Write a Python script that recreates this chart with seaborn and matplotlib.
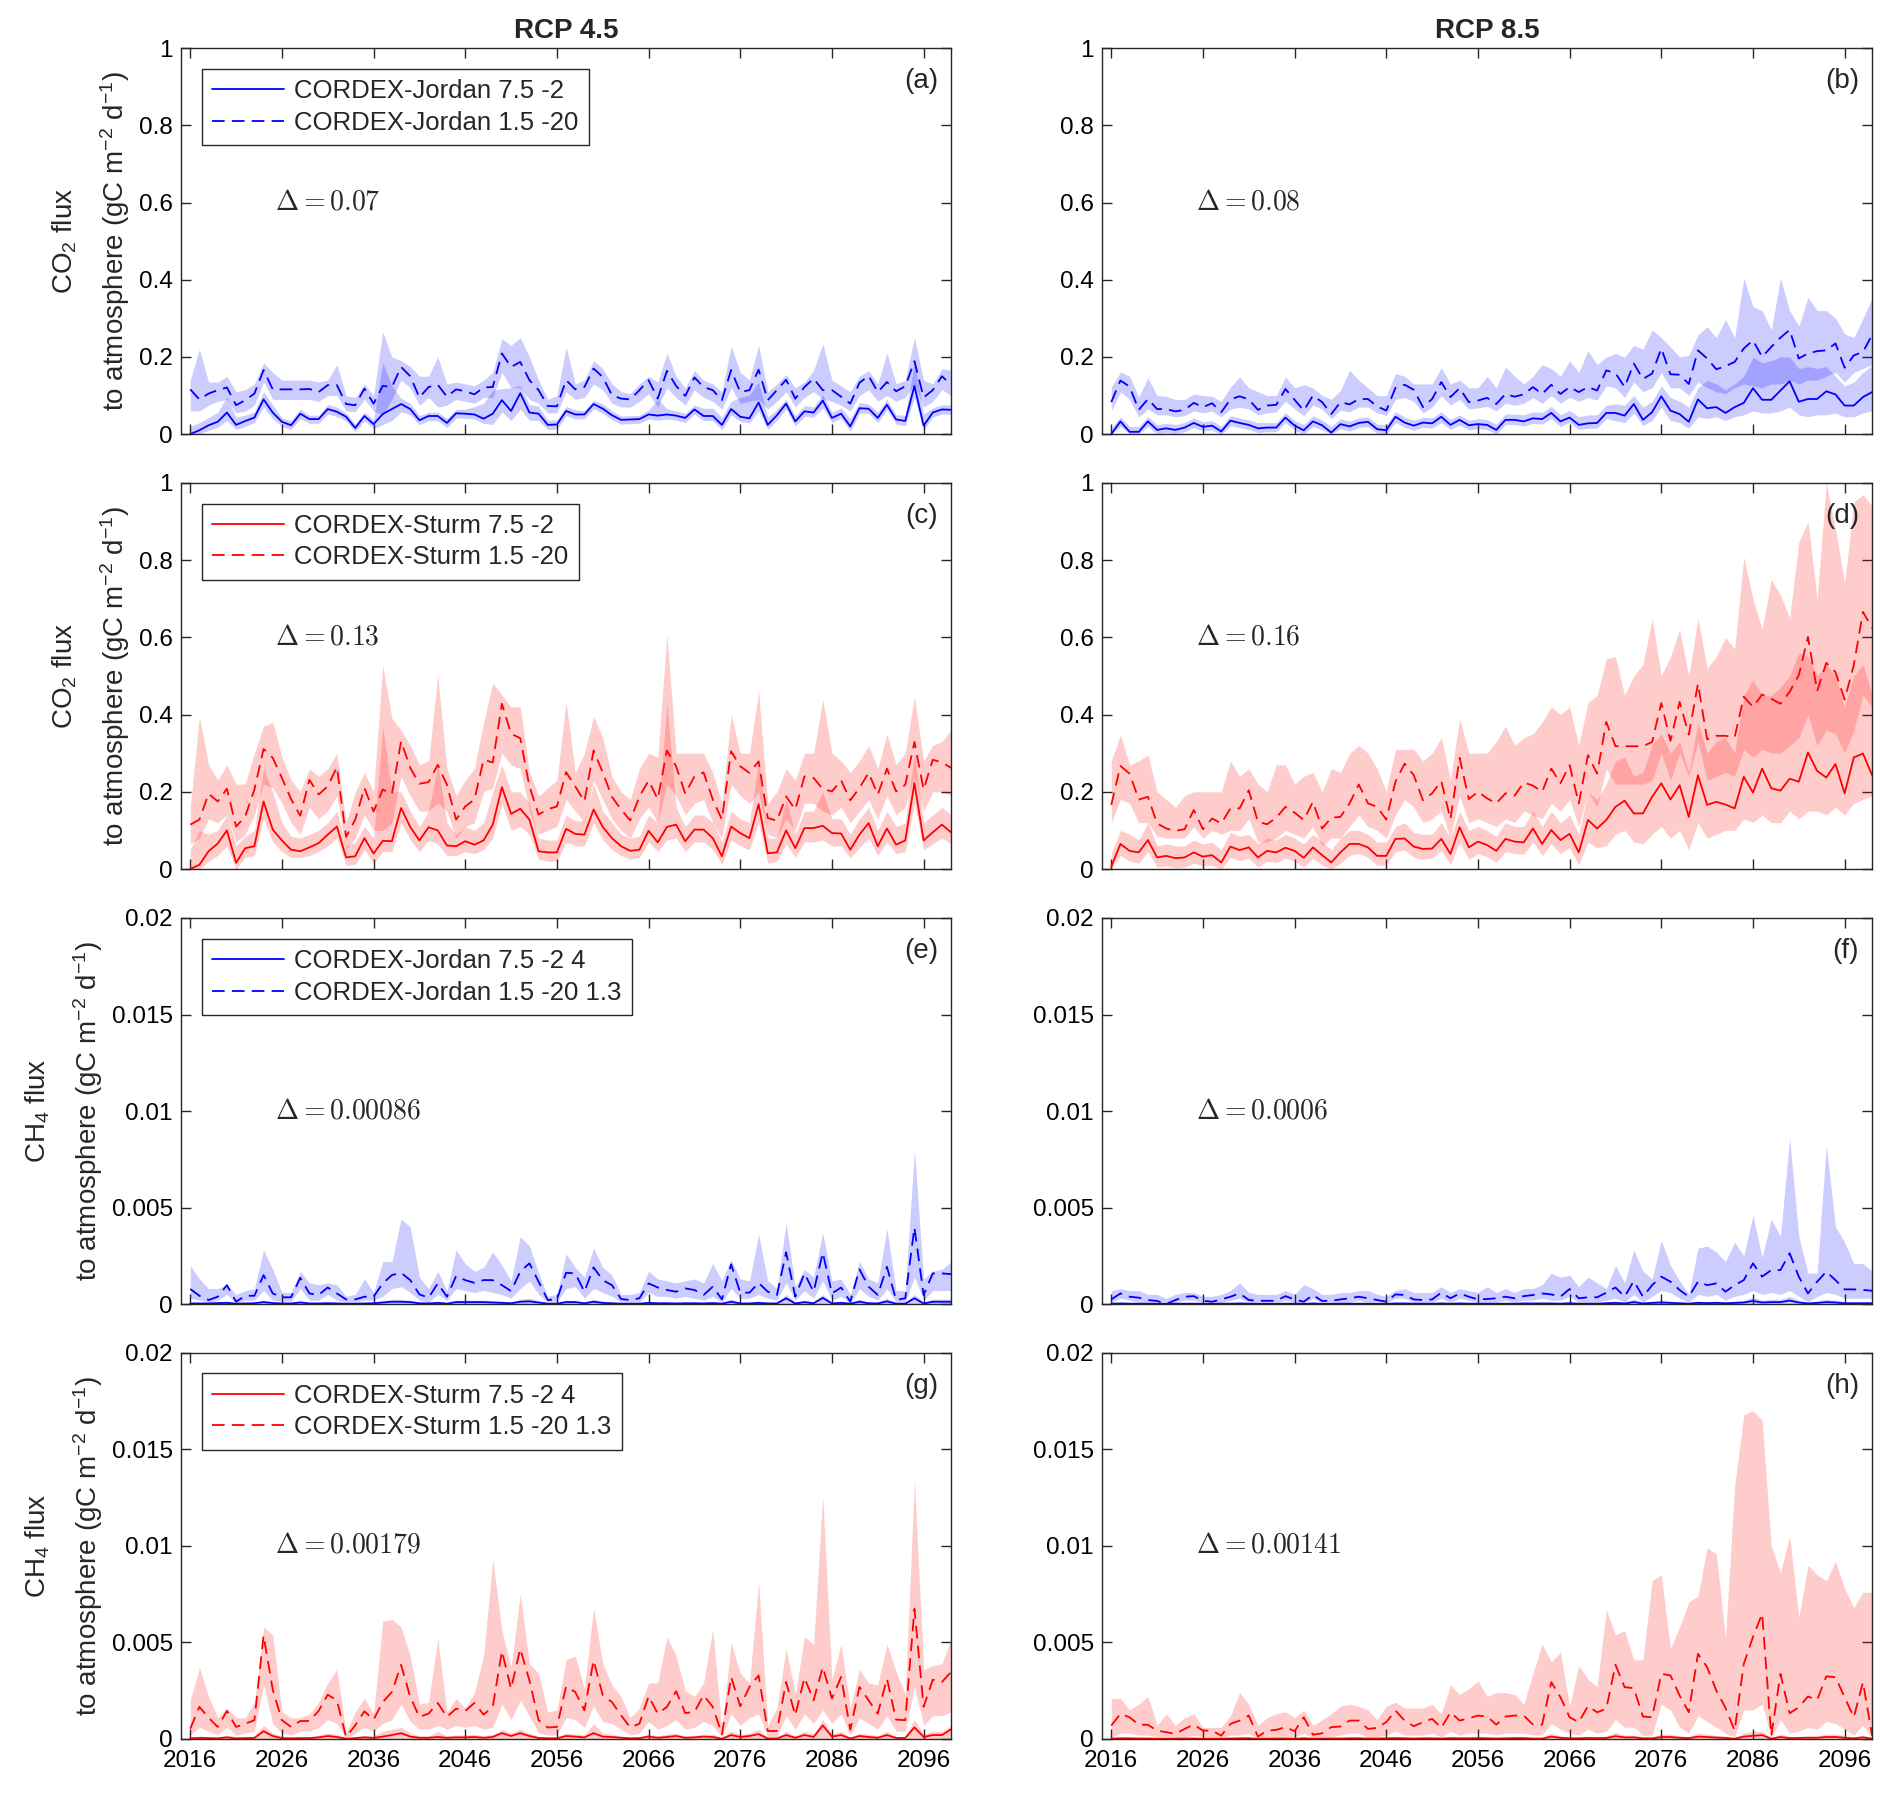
import numpy as np
import matplotlib
matplotlib.use("Agg")
import matplotlib.pyplot as plt
import seaborn as sns
from matplotlib.ticker import FuncFormatter

years = list(range(2016, 2100))

# ---- (a) RCP4.5 CO2, CORDEX-Jordan ----
a_m1 = [0.0,0.01,0.023,0.032,0.056,0.024,0.034,0.043,0.09,0.056,
        0.032,0.023,0.053,0.039,0.039,0.065,0.058,0.045,0.016,0.047,
        0.026,0.052,0.065,0.078,0.065,0.036,0.047,0.047,0.029,0.054,
        0.053,0.051,0.04,0.053,0.088,0.06,0.106,0.056,0.053,0.024,
        0.025,0.06,0.051,0.051,0.078,0.066,0.049,0.037,0.038,0.039,
        0.051,0.048,0.051,0.048,0.042,0.064,0.047,0.047,0.024,0.065,
        0.045,0.041,0.082,0.024,0.049,0.079,0.033,0.059,0.056,0.087,
        0.042,0.053,0.02,0.067,0.066,0.042,0.076,0.038,0.034,0.125,
        0.022,0.056,0.064,0.063]
a_lo1 = [0.0,0.0,0.01,0.018,0.035,0.012,0.02,0.03,0.07,0.04,
         0.02,0.012,0.04,0.028,0.028,0.052,0.046,0.034,0.006,0.035,
         0.014,0.025,0.035,0.058,0.05,0.024,0.035,0.035,0.017,0.042,
         0.041,0.039,0.028,0.025,0.058,0.035,0.065,0.036,0.035,0.012,
         0.013,0.048,0.039,0.04,0.066,0.054,0.037,0.026,0.027,0.028,
         0.039,0.036,0.039,0.036,0.03,0.052,0.035,0.035,0.012,0.05,
         0.033,0.029,0.06,0.012,0.037,0.065,0.021,0.046,0.044,0.068,
         0.03,0.041,0.008,0.054,0.054,0.03,0.063,0.026,0.022,0.095,
         0.01,0.044,0.052,0.051]
a_hi1 = [0.02,0.03,0.043,0.057,0.097,0.044,0.049,0.058,0.11,0.076,
         0.042,0.035,0.065,0.049,0.049,0.077,0.07,0.055,0.026,0.057,
         0.038,0.185,0.125,0.093,0.08,0.048,0.057,0.057,0.041,0.064,
         0.065,0.071,0.08,0.113,0.118,0.12,0.126,0.076,0.073,0.036,
         0.037,0.072,0.063,0.061,0.088,0.078,0.061,0.047,0.048,0.049,
         0.063,0.09,0.066,0.06,0.054,0.076,0.067,0.067,0.044,0.085,
         0.095,0.101,0.135,0.044,0.064,0.091,0.048,0.074,0.071,0.102,
         0.057,0.068,0.04,0.082,0.078,0.057,0.091,0.05,0.049,0.185,
         0.052,0.068,0.076,0.075]
a_m2 = [0.116,0.09,0.105,0.114,0.121,0.075,0.088,0.105,0.166,0.116,
        0.116,0.116,0.116,0.117,0.109,0.127,0.127,0.078,0.075,0.118,
        0.079,0.125,0.122,0.174,0.15,0.095,0.122,0.128,0.097,0.116,
        0.111,0.103,0.121,0.122,0.209,0.174,0.187,0.14,0.114,0.073,
        0.072,0.14,0.116,0.122,0.17,0.148,0.101,0.092,0.09,0.114,
        0.14,0.092,0.164,0.125,0.099,0.147,0.122,0.114,0.088,0.166,
        0.109,0.114,0.167,0.088,0.114,0.141,0.092,0.122,0.144,0.114,
        0.114,0.097,0.079,0.133,0.151,0.109,0.135,0.111,0.124,0.189,
        0.095,0.114,0.15,0.127]
a_lo2 = [0.06,0.06,0.075,0.085,0.09,0.055,0.06,0.075,0.135,0.09,
         0.09,0.09,0.09,0.09,0.085,0.1,0.1,0.06,0.058,0.09,
         0.06,0.05,0.09,0.14,0.12,0.075,0.095,0.07,0.075,0.09,
         0.085,0.08,0.095,0.095,0.16,0.12,0.12,0.09,0.08,0.055,
         0.055,0.11,0.09,0.095,0.13,0.115,0.08,0.07,0.07,0.085,
         0.105,0.07,0.12,0.095,0.075,0.115,0.095,0.085,0.065,0.12,
         0.08,0.085,0.09,0.065,0.085,0.11,0.07,0.095,0.11,0.09,
         0.085,0.075,0.06,0.1,0.115,0.085,0.1,0.085,0.095,0.13,
         0.07,0.085,0.115,0.1]
a_hi2 = [0.14,0.22,0.135,0.135,0.15,0.11,0.115,0.13,0.185,0.16,
         0.14,0.14,0.14,0.14,0.135,0.14,0.18,0.10,0.095,0.13,
         0.1,0.265,0.2,0.19,0.175,0.15,0.15,0.2,0.13,0.135,
         0.13,0.125,0.14,0.16,0.247,0.23,0.25,0.2,0.14,0.09,
         0.1,0.226,0.13,0.14,0.19,0.17,0.13,0.11,0.105,0.13,
         0.15,0.135,0.21,0.15,0.12,0.165,0.14,0.13,0.11,0.228,
         0.16,0.14,0.23,0.11,0.13,0.155,0.12,0.135,0.165,0.234,
         0.14,0.125,0.11,0.15,0.165,0.13,0.21,0.13,0.14,0.25,
         0.14,0.13,0.17,0.165]

# ---- (b) RCP8.5 CO2, CORDEX-Jordan ----
b_m1 = [0.0,0.033,0.006,0.006,0.033,0.011,0.015,0.011,0.017,0.029,
        0.019,0.022,0.007,0.035,0.029,0.024,0.015,0.017,0.017,0.043,
        0.022,0.01,0.033,0.023,0.004,0.026,0.02,0.029,0.032,0.013,
        0.01,0.045,0.03,0.022,0.03,0.028,0.045,0.024,0.037,0.023,
        0.026,0.024,0.011,0.037,0.037,0.033,0.041,0.039,0.055,0.033,
        0.043,0.024,0.028,0.029,0.055,0.055,0.048,0.078,0.037,0.057,
        0.098,0.061,0.052,0.032,0.09,0.067,0.07,0.055,0.07,0.081,
        0.119,0.089,0.089,0.113,0.137,0.084,0.091,0.091,0.111,0.103,
        0.074,0.074,0.096,0.109]
b_lo1 = [0.0,0.02,0.0,0.0,0.02,0.0,0.004,0.0,0.006,0.017,
         0.008,0.01,0.0,0.022,0.017,0.012,0.004,0.006,0.006,0.03,
         0.01,0.0,0.02,0.011,0.0,0.014,0.008,0.017,0.02,0.002,
         0.0,0.03,0.018,0.01,0.018,0.016,0.03,0.012,0.024,0.011,
         0.014,0.012,0.0,0.025,0.025,0.021,0.028,0.026,0.04,0.02,
         0.03,0.012,0.015,0.016,0.04,0.035,0.03,0.055,0.022,0.035,
         0.07,0.035,0.03,0.015,0.045,0.04,0.045,0.035,0.045,0.05,
         0.06,0.055,0.055,0.06,0.07,0.05,0.045,0.05,0.05,0.055,
         0.045,0.045,0.055,0.06]
b_hi1 = [0.015,0.045,0.02,0.02,0.045,0.025,0.028,0.025,0.03,0.042,
         0.032,0.035,0.02,0.048,0.042,0.037,0.03,0.03,0.03,0.056,
         0.035,0.025,0.048,0.036,0.02,0.04,0.034,0.042,0.045,0.026,
         0.025,0.058,0.044,0.036,0.044,0.042,0.058,0.038,0.05,0.036,
         0.04,0.038,0.026,0.052,0.052,0.05,0.058,0.056,0.072,0.05,
         0.062,0.045,0.05,0.05,0.075,0.078,0.075,0.1,0.07,0.085,
         0.125,0.095,0.085,0.07,0.12,0.14,0.13,0.115,0.13,0.15,
         0.2,0.185,0.19,0.2,0.2,0.17,0.175,0.17,0.175,0.15,
         0.125,0.135,0.16,0.178]
b_m2 = [0.083,0.139,0.123,0.063,0.091,0.065,0.065,0.059,0.063,0.081,
        0.07,0.08,0.057,0.09,0.098,0.09,0.063,0.074,0.076,0.117,
        0.089,0.061,0.1,0.083,0.052,0.083,0.077,0.091,0.091,0.072,
        0.061,0.12,0.128,0.115,0.07,0.091,0.135,0.096,0.119,0.083,
        0.087,0.094,0.078,0.104,0.097,0.103,0.122,0.104,0.128,0.104,
        0.122,0.109,0.122,0.113,0.165,0.158,0.122,0.183,0.143,0.157,
        0.222,0.155,0.154,0.13,0.217,0.196,0.168,0.176,0.187,0.222,
        0.243,0.2,0.226,0.25,0.27,0.196,0.209,0.215,0.217,0.235,
        0.172,0.204,0.213,0.257]
b_lo2 = [0.06,0.11,0.09,0.045,0.065,0.05,0.05,0.045,0.048,0.06,
         0.055,0.06,0.045,0.065,0.07,0.065,0.05,0.055,0.058,0.085,
         0.065,0.048,0.075,0.065,0.04,0.062,0.058,0.07,0.07,0.055,
         0.048,0.09,0.095,0.085,0.055,0.07,0.1,0.075,0.09,0.065,
         0.068,0.072,0.06,0.08,0.075,0.08,0.095,0.08,0.1,0.08,
         0.095,0.085,0.095,0.088,0.125,0.12,0.095,0.135,0.11,0.12,
         0.16,0.12,0.12,0.1,0.135,0.12,0.11,0.105,0.12,0.13,
         0.125,0.12,0.13,0.13,0.14,0.13,0.14,0.14,0.15,0.16,
         0.135,0.16,0.17,0.18]
b_hi2 = [0.122,0.161,0.15,0.096,0.146,0.1,0.098,0.09,0.09,0.104,
         0.1,0.098,0.085,0.122,0.148,0.12,0.11,0.1,0.1,0.148,
         0.12,0.128,0.12,0.1,0.09,0.113,0.165,0.14,0.12,0.1,
         0.1,0.157,0.15,0.13,0.13,0.13,0.172,0.13,0.14,0.12,
         0.12,0.15,0.12,0.174,0.15,0.13,0.15,0.18,0.17,0.15,
         0.19,0.16,0.216,0.18,0.2,0.209,0.2,0.23,0.22,0.27,
         0.25,0.226,0.2,0.204,0.257,0.278,0.25,0.297,0.25,0.404,
         0.33,0.32,0.27,0.404,0.32,0.28,0.354,0.32,0.32,0.3,
         0.26,0.25,0.3,0.352]

# ---- (c) RCP4.5 CO2, CORDEX-Sturm ----
c_m1 = [0.0,0.011,0.046,0.066,0.1,0.016,0.054,0.059,0.175,0.102,
        0.074,0.05,0.046,0.056,0.067,0.089,0.11,0.03,0.033,0.08,
        0.04,0.073,0.072,0.158,0.109,0.074,0.108,0.1,0.061,0.059,
        0.072,0.063,0.074,0.115,0.212,0.143,0.156,0.128,0.046,0.043,
        0.043,0.104,0.091,0.089,0.154,0.109,0.08,0.059,0.047,0.05,
        0.099,0.069,0.109,0.115,0.072,0.102,0.102,0.08,0.033,0.11,
        0.093,0.08,0.168,0.041,0.043,0.1,0.054,0.106,0.106,0.112,
        0.093,0.092,0.05,0.089,0.119,0.059,0.105,0.063,0.074,0.223,
        0.074,0.095,0.115,0.095]
c_lo1 = [0.0,0.0,0.02,0.035,0.06,0.0,0.03,0.035,0.13,0.07,
         0.045,0.03,0.03,0.035,0.045,0.06,0.08,0.01,0.012,0.05,
         0.015,0.045,0.045,0.12,0.075,0.045,0.075,0.065,0.035,0.035,
         0.045,0.04,0.05,0.08,0.17,0.1,0.11,0.09,0.025,0.02,
         0.02,0.07,0.06,0.06,0.12,0.075,0.05,0.035,0.025,0.03,
         0.07,0.045,0.075,0.08,0.045,0.07,0.07,0.05,0.012,0.075,
         0.06,0.05,0.12,0.015,0.02,0.065,0.03,0.07,0.07,0.075,
         0.06,0.06,0.028,0.055,0.08,0.035,0.07,0.04,0.045,0.17,
         0.05,0.065,0.08,0.065]
c_hi1 = [0.05,0.1,0.09,0.1,0.14,0.06,0.085,0.1,0.26,0.2,
         0.12,0.085,0.08,0.09,0.1,0.12,0.15,0.06,0.07,0.11,
         0.08,0.37,0.2,0.2,0.15,0.11,0.15,0.27,0.12,0.09,
         0.11,0.1,0.12,0.2,0.27,0.2,0.2,0.17,0.08,0.075,
         0.075,0.14,0.125,0.125,0.22,0.15,0.12,0.09,0.08,0.085,
         0.14,0.12,0.43,0.16,0.11,0.14,0.14,0.12,0.07,0.15,
         0.13,0.12,0.28,0.08,0.08,0.18,0.09,0.15,0.15,0.2,
         0.13,0.13,0.09,0.13,0.16,0.1,0.15,0.11,0.12,0.3,
         0.12,0.14,0.16,0.14]
c_m2 = [0.115,0.128,0.195,0.175,0.208,0.11,0.136,0.206,0.311,0.288,
        0.236,0.181,0.138,0.231,0.193,0.214,0.264,0.083,0.128,0.21,
        0.149,0.206,0.194,0.331,0.262,0.221,0.225,0.27,0.218,0.128,
        0.162,0.18,0.283,0.276,0.428,0.35,0.339,0.214,0.141,0.155,
        0.162,0.251,0.214,0.175,0.307,0.25,0.187,0.154,0.126,0.188,
        0.229,0.181,0.307,0.266,0.195,0.24,0.25,0.18,0.128,0.305,
        0.266,0.249,0.279,0.132,0.125,0.188,0.154,0.24,0.236,0.207,
        0.201,0.23,0.178,0.21,0.249,0.193,0.26,0.201,0.218,0.329,
        0.206,0.283,0.276,0.262]
c_lo2 = [0.065,0.08,0.13,0.12,0.14,0.07,0.09,0.14,0.22,0.21,
         0.17,0.12,0.09,0.16,0.13,0.15,0.19,0.05,0.08,0.14,
         0.1,0.1,0.12,0.24,0.19,0.15,0.15,0.17,0.15,0.08,
         0.11,0.12,0.2,0.21,0.3,0.27,0.26,0.15,0.09,0.1,
         0.11,0.18,0.15,0.12,0.23,0.18,0.13,0.1,0.08,0.13,
         0.16,0.12,0.22,0.19,0.14,0.17,0.18,0.12,0.08,0.22,
         0.19,0.17,0.2,0.09,0.08,0.13,0.1,0.17,0.17,0.15,
         0.14,0.16,0.12,0.15,0.18,0.13,0.19,0.14,0.16,0.24,
         0.15,0.2,0.2,0.19]
c_hi2 = [0.16,0.395,0.27,0.23,0.27,0.22,0.22,0.3,0.37,0.38,
         0.29,0.23,0.2,0.26,0.24,0.26,0.3,0.12,0.2,0.25,
         0.2,0.527,0.39,0.36,0.32,0.27,0.28,0.503,0.26,0.19,
         0.23,0.26,0.38,0.482,0.45,0.42,0.42,0.25,0.19,0.21,
         0.23,0.434,0.25,0.3,0.395,0.34,0.24,0.2,0.18,0.26,
         0.3,0.29,0.607,0.3,0.3,0.3,0.3,0.25,0.17,0.4,
         0.3,0.3,0.46,0.17,0.2,0.26,0.23,0.3,0.3,0.44,
         0.3,0.28,0.25,0.28,0.32,0.26,0.35,0.27,0.3,0.447,
         0.28,0.32,0.33,0.36]

# ---- (d) RCP8.5 CO2, CORDEX-Sturm ----
d_m1 = [0.006,0.065,0.047,0.043,0.075,0.03,0.034,0.028,0.03,0.043,
        0.032,0.036,0.017,0.058,0.049,0.056,0.03,0.047,0.043,0.055,
        0.047,0.029,0.056,0.036,0.017,0.043,0.065,0.065,0.056,0.034,
        0.034,0.078,0.079,0.058,0.052,0.053,0.078,0.039,0.108,0.056,
        0.071,0.062,0.047,0.078,0.071,0.069,0.105,0.065,0.101,0.075,
        0.091,0.043,0.127,0.105,0.127,0.161,0.177,0.144,0.144,0.187,
        0.222,0.18,0.217,0.135,0.243,0.166,0.174,0.167,0.157,0.239,
        0.198,0.26,0.209,0.203,0.234,0.226,0.302,0.254,0.237,0.272,
        0.196,0.289,0.299,0.243]
d_lo1 = [0.0,0.035,0.02,0.015,0.045,0.005,0.008,0.003,0.005,0.015,
         0.008,0.01,0.0,0.03,0.022,0.028,0.005,0.02,0.017,0.028,
         0.02,0.005,0.028,0.01,0.0,0.015,0.035,0.04,0.03,0.01,
         0.01,0.045,0.05,0.03,0.025,0.028,0.048,0.012,0.07,0.025,
         0.04,0.032,0.018,0.045,0.04,0.038,0.07,0.035,0.065,0.04,
         0.055,0.01,0.07,0.055,0.06,0.09,0.1,0.07,0.065,0.09,
         0.11,0.08,0.1,0.05,0.12,0.08,0.09,0.1,0.1,0.13,
         0.12,0.14,0.12,0.12,0.15,0.13,0.15,0.15,0.14,0.16,
         0.14,0.17,0.18,0.19]
d_hi1 = [0.04,0.1,0.09,0.075,0.12,0.06,0.065,0.06,0.06,0.075,
         0.065,0.07,0.05,0.095,0.085,0.09,0.065,0.08,0.075,0.09,
         0.08,0.065,0.09,0.07,0.05,0.08,0.1,0.1,0.09,0.07,
         0.07,0.11,0.12,0.095,0.09,0.09,0.12,0.08,0.15,0.1,
         0.11,0.1,0.085,0.12,0.11,0.11,0.15,0.11,0.15,0.12,
         0.14,0.09,0.2,0.18,0.22,0.28,0.29,0.24,0.25,0.32,
         0.35,0.3,0.33,0.25,0.38,0.3,0.33,0.34,0.3,0.45,
         0.49,0.45,0.45,0.47,0.5,0.56,0.55,0.5,0.53,0.5,
         0.42,0.5,0.53,0.45]
d_m2 = [0.166,0.267,0.247,0.18,0.187,0.118,0.105,0.099,0.103,0.153,
        0.103,0.131,0.118,0.157,0.157,0.204,0.122,0.116,0.133,0.161,
        0.146,0.127,0.174,0.105,0.133,0.135,0.17,0.219,0.17,0.161,
        0.128,0.226,0.273,0.243,0.178,0.196,0.228,0.129,0.288,0.181,
        0.2,0.183,0.17,0.196,0.19,0.224,0.216,0.2,0.26,0.222,
        0.269,0.17,0.295,0.247,0.381,0.318,0.318,0.318,0.318,0.329,
        0.43,0.332,0.433,0.348,0.48,0.336,0.345,0.345,0.341,0.446,
        0.42,0.452,0.441,0.428,0.459,0.502,0.601,0.461,0.534,0.51,
        0.439,0.528,0.666,0.624]
d_lo2 = [0.12,0.18,0.17,0.12,0.12,0.085,0.08,0.08,0.08,0.11,
         0.08,0.1,0.09,0.1,0.1,0.13,0.07,0.07,0.08,0.1,
         0.09,0.08,0.11,0.06,0.08,0.08,0.11,0.14,0.11,0.1,
         0.08,0.14,0.18,0.16,0.12,0.13,0.15,0.08,0.19,0.12,
         0.13,0.12,0.11,0.13,0.12,0.15,0.14,0.13,0.17,0.15,
         0.18,0.11,0.2,0.16,0.26,0.22,0.22,0.22,0.22,0.23,
         0.3,0.23,0.3,0.24,0.33,0.23,0.24,0.25,0.24,0.31,
         0.29,0.31,0.3,0.3,0.32,0.34,0.4,0.32,0.36,0.35,
         0.3,0.36,0.45,0.42]
d_hi2 = [0.28,0.347,0.27,0.28,0.295,0.2,0.18,0.16,0.19,0.2,
         0.2,0.2,0.2,0.28,0.24,0.26,0.22,0.2,0.27,0.27,
         0.22,0.24,0.25,0.2,0.26,0.25,0.3,0.32,0.3,0.26,
         0.2,0.31,0.31,0.31,0.28,0.3,0.34,0.23,0.39,0.3,
         0.3,0.3,0.33,0.37,0.32,0.34,0.35,0.38,0.42,0.4,
         0.42,0.32,0.43,0.45,0.545,0.55,0.45,0.5,0.53,0.648,
         0.5,0.55,0.62,0.5,0.65,0.52,0.55,0.6,0.57,0.808,
         0.7,0.62,0.75,0.71,0.65,0.847,0.9,0.7,1.0,0.88,
         0.74,0.95,0.97,0.94]

# ---- (e) RCP4.5 CH4, CORDEX-Jordan ----
e_m1 = [0.00003,0.00003,0.00003,0.00005,0.00006,0.00002,0.00003,0.00004,0.0001,0.00005,
        0.00003,0.00003,0.00008,0.00003,0.00003,0.00004,0.00003,0.00002,0.00002,0.00003,
        0.00004,0.00008,0.00012,0.00012,0.0001,0.00004,0.00003,0.00006,0.00002,0.0001,
        0.0001,0.0001,0.0001,0.00008,0.00006,0.00004,0.00012,0.00014,0.00008,0.00002,
        0.00002,0.0001,0.0001,0.00004,0.00012,0.00006,0.00004,0.00002,0.00002,0.00002,
        0.00006,0.00004,0.00004,0.00003,0.00004,0.00004,0.00003,0.00005,0.00002,0.00012,
        0.00003,0.00003,0.00006,0.00003,0.00003,0.0003,0.00003,0.0001,0.00004,0.00032,
        0.00003,0.00006,0.00002,0.00012,0.00004,0.00003,0.00014,0.00002,0.00002,0.0003,
        0.00003,0.00012,0.00012,0.00012]
e_hi1 = [0.0001,0.0001,0.0001,0.00012,0.00015,0.00008,0.0001,0.0001,0.0002,0.00012,
         0.0001,0.0001,0.00018,0.0001,0.0001,0.00012,0.0001,0.00008,0.00008,0.0001,
         0.0001,0.00018,0.00025,0.00025,0.0002,0.0001,0.0001,0.00015,0.00008,0.0002,
         0.0002,0.0002,0.0002,0.00018,0.00015,0.0001,0.00025,0.0003,0.00018,0.00008,
         0.00008,0.0002,0.0002,0.0001,0.00025,0.00015,0.0001,0.00008,0.00008,0.00008,
         0.00015,0.0001,0.0001,0.0001,0.0001,0.0001,0.0001,0.00012,0.00008,0.00025,
         0.0001,0.0001,0.00015,0.0001,0.0001,0.0005,0.0001,0.0002,0.0001,0.0005,
         0.0001,0.00015,0.00008,0.00025,0.0001,0.0001,0.0003,0.00008,0.00008,0.0005,
         0.0001,0.00025,0.00025,0.00025]
e_m2 = [0.00078,0.00043,0.00021,0.00038,0.00098,0.00012,0.00043,0.00043,0.0015,0.00055,
        0.00035,0.00035,0.00136,0.00055,0.00047,0.00086,0.00055,0.00024,0.00024,0.00038,
        0.00038,0.00107,0.0015,0.00162,0.00124,0.0005,0.00033,0.00107,0.00038,0.00145,
        0.00124,0.0011,0.00124,0.00124,0.00098,0.00067,0.00168,0.00211,0.00116,0.00021,
        0.00024,0.00162,0.00159,0.00064,0.0019,0.00124,0.00098,0.00026,0.00021,0.0003,
        0.00107,0.00086,0.00073,0.00064,0.00081,0.00073,0.00047,0.0009,0.00024,0.00206,
        0.00059,0.00059,0.0011,0.00064,0.00047,0.00268,0.00038,0.00159,0.00064,0.00266,
        0.00055,0.00086,0.00012,0.0018,0.0009,0.00047,0.00193,0.00021,0.0003,0.00397,
        0.00047,0.00159,0.00159,0.00155]
e_lo2 = [0.0003,0.0002,0.0001,0.0002,0.0005,0.00005,0.0002,0.0002,0.0007,0.0002,
         0.00015,0.00015,0.0008,0.0002,0.0002,0.0005,0.0002,0.0001,0.0001,0.0002,
         0.0002,0.0004,0.0008,0.0009,0.0006,0.0002,0.0001,0.0005,0.0002,0.0008,
         0.0007,0.0006,0.0007,0.0006,0.0005,0.0003,0.0008,0.0012,0.0005,0.0001,
         0.0001,0.0008,0.0009,0.0003,0.0008,0.0006,0.0004,0.0001,0.0001,0.0001,
         0.0006,0.0004,0.0004,0.0003,0.0004,0.0003,0.0002,0.0004,0.0001,0.0008,
         0.0003,0.0003,0.0005,0.0003,0.0002,0.0011,0.0002,0.0007,0.0003,0.0012,
         0.0002,0.0004,0.00005,0.0008,0.0004,0.0002,0.0008,0.0001,0.0001,0.0014,
         0.0002,0.0007,0.0007,0.0007]
e_hi2 = [0.002,0.0013,0.0008,0.0008,0.001,0.0005,0.0007,0.0008,0.0028,0.0018,
         0.0006,0.0006,0.0017,0.0011,0.001,0.0011,0.001,0.0004,0.0005,0.0013,
         0.0006,0.0022,0.0022,0.0044,0.004,0.0014,0.0008,0.0017,0.0007,0.0028,
         0.0021,0.0017,0.0019,0.0027,0.002,0.0012,0.0035,0.003,0.0016,0.0004,
         0.0005,0.0026,0.0019,0.0014,0.0029,0.0019,0.0015,0.0005,0.0005,0.0006,
         0.0017,0.0013,0.0012,0.0011,0.0012,0.0013,0.0011,0.0021,0.0012,0.0023,
         0.0013,0.0012,0.0036,0.0012,0.0008,0.0042,0.0009,0.0018,0.0014,0.0037,
         0.0012,0.0013,0.0005,0.0022,0.0013,0.0011,0.0039,0.0007,0.0007,0.008,
         0.0013,0.0017,0.0018,0.0022]

# ---- (f) RCP8.5 CH4, CORDEX-Jordan ----
f_m1 = [0.00002,0.00003,0.00002,0.00002,0.00002,0.00001,0.00001,0.00002,0.00002,0.00002,
        0.00001,0.00001,0.00002,0.00002,0.00003,0.00002,0.00001,0.00001,0.00001,0.00002,
        0.00002,0.00001,0.00003,0.00001,0.00001,0.00002,0.00002,0.00002,0.00002,0.00001,
        0.00001,0.00003,0.00003,0.00002,0.00002,0.00002,0.00003,0.00002,0.00003,0.00002,
        0.00002,0.00002,0.00002,0.00002,0.00002,0.00003,0.00003,0.00003,0.00003,0.00002,
        0.00004,0.00002,0.00002,0.00002,0.00004,0.00006,0.00003,0.0001,0.00003,0.00006,
        0.00008,0.00006,0.00004,0.00002,0.00006,0.00005,0.00006,0.00004,0.00006,0.00008,
        0.00016,0.00008,0.0001,0.0001,0.00018,0.00008,0.00003,0.00006,0.0001,0.00008,
        0.00004,0.00004,0.00004,0.00004]
f_hi1 = [0.00008,0.0001,0.00008,0.00008,0.00008,0.00006,0.00006,0.00008,0.00008,0.00008,
         0.00006,0.00006,0.00008,0.00008,0.0001,0.00008,0.00006,0.00006,0.00006,0.00008,
         0.00008,0.00006,0.0001,0.00006,0.00006,0.00008,0.00008,0.00008,0.00008,0.00006,
         0.00006,0.0001,0.0001,0.00008,0.00008,0.00008,0.0001,0.00008,0.0001,0.00008,
         0.00008,0.00008,0.00008,0.00008,0.00008,0.0001,0.0001,0.0001,0.0001,0.00008,
         0.00012,0.00008,0.00008,0.00008,0.00012,0.00015,0.0001,0.00025,0.0001,0.00015,
         0.0002,0.00015,0.00012,0.00008,0.00015,0.00012,0.00015,0.00012,0.00015,0.0002,
         0.00035,0.0002,0.00025,0.00025,0.0004,0.0002,0.0001,0.00015,0.00025,0.0002,
         0.00012,0.00012,0.00012,0.00012]
f_m2 = [0.00024,0.00055,0.00038,0.00033,0.00021,0.00016,0.0,0.00021,0.00038,0.00041,
        0.00017,0.00012,0.00024,0.00038,0.00055,0.00021,0.00017,0.00017,0.00017,0.00041,
        0.00024,0.00012,0.00047,0.00016,0.00017,0.00024,0.0003,0.00038,0.0003,0.00021,
        0.00012,0.0005,0.00047,0.00024,0.00021,0.00024,0.00059,0.0003,0.00055,0.00038,
        0.00024,0.00026,0.0003,0.00038,0.0003,0.00041,0.00047,0.00055,0.0005,0.00038,
        0.00078,0.0003,0.00035,0.00035,0.00059,0.00086,0.00038,0.00119,0.00038,0.00098,
        0.00142,0.00116,0.00073,0.00038,0.00116,0.00098,0.00107,0.00064,0.00098,0.00124,
        0.00211,0.00142,0.00176,0.00176,0.00263,0.00142,0.00055,0.00116,0.00168,0.00124,
        0.00076,0.00076,0.00073,0.00069]
f_lo2 = [0.0001,0.0003,0.0002,0.0001,0.0001,0.00005,0.0,0.0001,0.0002,0.0002,
         0.00005,0.00005,0.0001,0.0002,0.0003,0.0001,0.00005,0.00005,0.00005,0.0002,
         0.0001,0.00005,0.0003,0.00005,0.00005,0.0001,0.0001,0.0002,0.0001,0.0001,
         0.00005,0.0003,0.0003,0.0001,0.0001,0.0001,0.0003,0.0001,0.0003,0.0002,
         0.0001,0.0001,0.0001,0.0002,0.0001,0.0002,0.0002,0.0003,0.0002,0.0002,
         0.0004,0.0001,0.0001,0.0001,0.0002,0.0003,0.0001,0.0005,0.0001,0.0004,
         0.0007,0.0006,0.0003,0.0001,0.0005,0.0004,0.0005,0.0002,0.0004,0.0005,
         0.0007,0.0005,0.0006,0.0005,0.0007,0.0004,0.0001,0.0004,0.0006,0.0005,
         0.0003,0.0003,0.0003,0.0003]
f_hi2 = [0.0007,0.0008,0.0007,0.0007,0.0005,0.0005,0.0003,0.0005,0.0006,0.0006,
         0.0004,0.0004,0.0005,0.0007,0.0011,0.0006,0.0005,0.0005,0.0005,0.0007,
         0.0005,0.0010,0.0008,0.0005,0.0005,0.0006,0.0006,0.0007,0.0007,0.0005,
         0.0004,0.0007,0.0008,0.0006,0.0006,0.0006,0.0009,0.0006,0.0008,0.0007,
         0.0006,0.0009,0.0006,0.0008,0.0006,0.0008,0.0008,0.001,0.0016,0.0014,
         0.0015,0.0009,0.0014,0.0011,0.0008,0.002,0.0011,0.0028,0.0017,0.0013,
         0.0033,0.002,0.0012,0.0005,0.0029,0.003,0.0027,0.0022,0.0032,0.0025,
         0.0046,0.0024,0.0044,0.0035,0.0086,0.0035,0.0016,0.0016,0.0082,0.004,
         0.0032,0.0021,0.0021,0.0017]

# ---- (g) RCP4.5 CH4, CORDEX-Sturm ----
g_m1 = [0.00003,0.00005,0.00004,0.00003,0.00008,0.00003,0.00004,0.00005,0.0004,0.00015,
        0.00004,0.00003,0.00004,0.00004,0.00008,0.00015,0.0001,0.00001,0.00004,0.00008,
        0.00005,0.00012,0.0002,0.0003,0.00012,0.00006,0.00006,0.0001,0.00006,0.00008,
        0.00008,0.0001,0.00006,0.0001,0.0003,0.00015,0.0003,0.00015,0.00005,0.00003,
        0.00003,0.00015,0.00012,0.00008,0.0003,0.00012,0.0001,0.00006,0.00003,0.00004,
        0.00012,0.00006,0.0001,0.00015,0.00006,0.00008,0.00012,0.0001,0.00001,0.0002,
        0.0001,0.00015,0.00025,0.00002,0.00002,0.0002,0.00006,0.0002,0.0001,0.0007,
        0.00012,0.0002,0.00002,0.00015,0.0001,0.00006,0.0002,0.00005,0.00005,0.0006,
        0.0001,0.0002,0.0002,0.0005]
g_hi1 = [0.0001,0.00015,0.00012,0.0001,0.0002,0.0001,0.00012,0.00015,0.0007,0.0003,
         0.00012,0.0001,0.00012,0.00012,0.0002,0.0003,0.00025,0.00005,0.00012,0.0002,
         0.00015,0.0004,0.0005,0.0006,0.0003,0.00015,0.00015,0.0004,0.00015,0.0002,
         0.0002,0.00025,0.00015,0.00025,0.0005,0.0003,0.0005,0.0003,0.00012,0.0001,
         0.0001,0.0003,0.00025,0.0002,0.0008,0.0003,0.00025,0.00015,0.0001,0.00012,
         0.00025,0.00015,0.00025,0.0003,0.00015,0.0002,0.00025,0.00025,0.00005,0.0004,
         0.00025,0.0003,0.0005,0.00008,0.00008,0.0004,0.00015,0.0004,0.00025,0.001,
         0.00025,0.0004,0.00008,0.0003,0.00025,0.00015,0.0004,0.00012,0.00012,0.001,
         0.00025,0.0004,0.0004,0.0007]
g_m2 = [0.00053,0.00166,0.0011,0.00062,0.00145,0.00062,0.00079,0.00097,0.00536,0.00255,
        0.00097,0.00062,0.00093,0.00093,0.00145,0.00229,0.002,0.0001,0.00071,0.00143,
        0.001,0.00191,0.00243,0.00384,0.00217,0.00114,0.00131,0.00186,0.00114,0.00157,
        0.00145,0.00186,0.00126,0.00166,0.00455,0.0026,0.00467,0.00303,0.00097,0.00059,
        0.00062,0.00272,0.00243,0.00148,0.00407,0.00226,0.00191,0.00122,0.00059,0.00079,
        0.00221,0.00131,0.00166,0.00247,0.00134,0.0014,0.00226,0.00166,0.00024,0.00321,
        0.00169,0.00269,0.00329,0.00041,0.00041,0.00295,0.00122,0.00317,0.002,0.00372,
        0.00209,0.00321,0.00048,0.00269,0.002,0.00131,0.00312,0.001,0.00097,0.00674,
        0.00166,0.00307,0.00295,0.00347]
g_lo2 = [0.0002,0.0006,0.0004,0.0002,0.0006,0.0002,0.0003,0.0004,0.0028,0.0008,
         0.0003,0.0002,0.0004,0.0004,0.0006,0.001,0.0008,0.00003,0.0003,0.0006,
         0.0004,0.0008,0.001,0.0018,0.0009,0.0005,0.0005,0.0007,0.0005,0.0007,
         0.0006,0.0007,0.0005,0.0006,0.0018,0.001,0.002,0.0012,0.0003,0.0002,
         0.0002,0.0011,0.001,0.0006,0.0017,0.0009,0.0008,0.0005,0.0002,0.0003,
         0.0009,0.0005,0.0007,0.001,0.0005,0.0006,0.0009,0.0007,0.0001,0.0013,
         0.0007,0.0011,0.0013,0.0001,0.0001,0.0012,0.0005,0.0013,0.0008,0.0015,
         0.0008,0.0013,0.0002,0.0011,0.0008,0.0005,0.0012,0.0004,0.0004,0.0027,
         0.0007,0.0012,0.0012,0.0014]
g_hi2 = [0.002,0.0037,0.0022,0.0011,0.0016,0.0011,0.0011,0.0019,0.0058,0.0054,
         0.0014,0.0011,0.0011,0.0013,0.0019,0.0029,0.0036,0.0003,0.0014,0.0021,
         0.0013,0.0061,0.0062,0.0058,0.0043,0.0018,0.0019,0.0052,0.0014,0.0021,
         0.0016,0.0024,0.0043,0.0093,0.0056,0.0037,0.0075,0.0039,0.0034,0.0014,
         0.0015,0.0041,0.0043,0.0026,0.0068,0.0039,0.0028,0.0022,0.0011,0.0016,
         0.0029,0.0029,0.0053,0.0043,0.0025,0.0022,0.0029,0.0057,0.0005,0.005,
         0.0034,0.0029,0.0081,0.0007,0.0016,0.0047,0.0023,0.0053,0.0049,0.0126,
         0.0031,0.0049,0.0016,0.0036,0.0029,0.0028,0.0049,0.0035,0.0023,0.0134,
         0.0036,0.0038,0.0039,0.0052]

# ---- (h) RCP8.5 CH4, CORDEX-Sturm ----
h_m1 = [0.00002,0.00003,0.00003,0.00002,0.00002,0.00001,0.00001,0.00001,0.00002,0.00002,
        0.00001,0.00001,0.00001,0.00002,0.00003,0.00003,0.00001,0.00001,0.00002,0.00002,
        0.00001,0.00003,0.00001,0.00001,0.00002,0.00002,0.00003,0.00003,0.00002,0.00002,
        0.00003,0.00004,0.00003,0.00002,0.00003,0.00003,0.00002,0.00004,0.00003,0.00003,
        0.00004,0.00003,0.00002,0.00003,0.00004,0.00004,0.00002,0.00002,0.00012,0.00006,
        0.00003,0.00003,0.00005,0.00004,0.00005,0.00014,0.00008,0.00008,0.00003,0.00003,
        0.0001,0.0001,0.00006,0.00004,0.00012,0.0001,0.00007,0.00005,0.00001,0.00012,
        0.00016,0.0002,0.00001,0.0001,0.00004,0.00005,0.00006,0.00006,0.0001,0.0001,
        0.00006,0.00003,0.00008,0.00001]
h_hi1 = [0.00008,0.0001,0.0001,0.00008,0.00008,0.00006,0.00006,0.00006,0.00008,0.00008,
         0.00006,0.00006,0.00006,0.00008,0.0001,0.0001,0.00006,0.00006,0.00008,0.00008,
         0.00006,0.0001,0.00006,0.00006,0.00008,0.00008,0.0001,0.0001,0.00008,0.00008,
         0.0001,0.00012,0.0001,0.00008,0.0001,0.0001,0.00008,0.00012,0.0001,0.0001,
         0.00012,0.0001,0.00008,0.0001,0.00012,0.00012,0.00008,0.00008,0.0003,0.00015,
         0.0001,0.0001,0.00014,0.00012,0.00014,0.00035,0.0002,0.0002,0.0001,0.0001,
         0.00025,0.00025,0.00015,0.00012,0.0003,0.00025,0.00018,0.00014,0.00006,0.0003,
         0.0004,0.0004,0.00006,0.00025,0.00012,0.00014,0.00015,0.00015,0.00025,0.00025,
         0.00015,0.0001,0.0002,0.00006]
h_m2 = [0.00069,0.0013,0.00112,0.00074,0.00073,0.00043,0.00035,0.00026,0.00052,0.00074,
        0.00043,0.00043,0.00017,0.00078,0.00095,0.00121,0.00012,0.00043,0.00047,0.00061,
        0.0004,0.00112,0.00022,0.00029,0.00061,0.00064,0.00095,0.00095,0.00052,0.00057,
        0.00087,0.00147,0.00095,0.00066,0.00087,0.00104,0.00057,0.00138,0.00095,0.00107,
        0.00121,0.00116,0.00074,0.00116,0.00121,0.00121,0.00074,0.00074,0.00294,0.00216,
        0.00112,0.00087,0.0017,0.00138,0.00156,0.00384,0.00268,0.00263,0.00116,0.00112,
        0.00337,0.00329,0.00225,0.00138,0.00441,0.00372,0.00251,0.00161,0.00043,0.00389,
        0.00528,0.00649,0.00017,0.00337,0.00133,0.00164,0.0022,0.00202,0.00324,0.0032,
        0.00216,0.00112,0.00294,0.00017]
h_lo2 = [0.0001,0.0003,0.0003,0.0002,0.0002,0.0001,0.0001,0.00005,0.0001,0.0002,
         0.0001,0.0001,0.00003,0.0002,0.0002,0.0003,0.00003,0.0001,0.0001,0.0001,
         0.0001,0.0003,0.00005,0.00005,0.0001,0.0002,0.0003,0.0003,0.0001,0.0001,
         0.0002,0.0004,0.0002,0.0002,0.0002,0.0003,0.0001,0.0004,0.0002,0.0003,
         0.0003,0.0003,0.0002,0.0003,0.0003,0.0003,0.0002,0.0002,0.0008,0.0005,
         0.0003,0.0002,0.0005,0.0003,0.0004,0.001,0.0006,0.0006,0.0002,0.0002,
         0.0018,0.0015,0.0006,0.0003,0.0012,0.0009,0.0006,0.0003,0.0001,0.0015,
         0.0015,0.0018,0.00003,0.001,0.0003,0.0004,0.0006,0.0005,0.0009,0.0008,
         0.0005,0.0002,0.0007,0.00003]
h_hi2 = [0.0021,0.0021,0.0015,0.0018,0.0022,0.0007,0.0013,0.0007,0.0011,0.0013,
         0.0006,0.0006,0.0006,0.0012,0.0024,0.0018,0.0007,0.0011,0.0013,0.0014,
         0.0011,0.0015,0.0007,0.001,0.0013,0.0017,0.0018,0.0017,0.0015,0.001,
         0.0017,0.0019,0.0016,0.0016,0.0016,0.0018,0.0013,0.0028,0.0023,0.0026,
         0.003,0.0022,0.0024,0.0024,0.0023,0.0018,0.0034,0.0049,0.004,0.0045,
         0.0017,0.0038,0.0031,0.0027,0.0067,0.0054,0.0056,0.0041,0.0041,0.0082,
         0.0085,0.0047,0.0058,0.0071,0.0074,0.0099,0.0096,0.0052,0.0131,0.0168,
         0.017,0.0165,0.01,0.0086,0.0105,0.0063,0.009,0.0085,0.0082,0.0092,
         0.0078,0.0068,0.0076,0.0076]

deltas = ["0.07", "0.08", "0.13", "0.16", "0.00086", "0.0006", "0.00179", "0.00141"]
legend_labels = {
    "a": ["CORDEX-Jordan 7.5 -2", "CORDEX-Jordan 1.5 -20"],
    "c": ["CORDEX-Sturm 7.5 -2", "CORDEX-Sturm 1.5 -20"],
    "e": ["CORDEX-Jordan 7.5 -2 4", "CORDEX-Jordan 1.5 -20 1.3"],
    "g": ["CORDEX-Sturm 7.5 -2 4", "CORDEX-Sturm 1.5 -20 1.3"],
}
col_titles = ["RCP 4.5", "RCP 8.5"]
xticks = [2016, 2026, 2036, 2046, 2056, 2066, 2076, 2086, 2096]

panels = [
    ("a", 0, 0, "blue", (a_m1, a_lo1, a_hi1), (a_m2, a_lo2, a_hi2)),
    ("b", 0, 1, "blue", (b_m1, b_lo1, b_hi1), (b_m2, b_lo2, b_hi2)),
    ("c", 1, 0, "red", (c_m1, c_lo1, c_hi1), (c_m2, c_lo2, c_hi2)),
    ("d", 1, 1, "red", (d_m1, d_lo1, d_hi1), (d_m2, d_lo2, d_hi2)),
    ("e", 2, 0, "blue", (e_m1, None, e_hi1), (e_m2, e_lo2, e_hi2)),
    ("f", 2, 1, "blue", (f_m1, None, f_hi1), (f_m2, f_lo2, f_hi2)),
    ("g", 3, 0, "red", (g_m1, None, g_hi1), (g_m2, g_lo2, g_hi2)),
    ("h", 3, 1, "red", (h_m1, None, h_hi1), (h_m2, h_lo2, h_hi2)),
]

sns.set_style("ticks")
plt.rcParams["font.family"] = ["Liberation Sans", "DejaVu Sans"]
plt.rcParams["mathtext.fontset"] = "custom"
plt.rcParams["mathtext.rm"] = "Liberation Sans"
plt.rcParams["mathtext.it"] = "Liberation Sans:italic"
plt.rcParams["mathtext.default"] = "rm"

colors = {"blue": "#0000ff", "red": "#ff0000"}
fig = plt.figure(figsize=(18.92, 17.94), dpi=100)

col_x = [0.0957, 0.5825]
row_y = [0.758, 0.5156, 0.2731, 0.0307]
ax_w, ax_h = 0.407, 0.2152

for idx, (key, r, c, cname, solid, dashed) in enumerate(panels):
    ax = fig.add_axes([col_x[c], row_y[r], ax_w, ax_h])
    col = colors[cname]
    is_co2 = r < 2
    ymax = 1.0 if is_co2 else 0.02

    # shaded ranges (drawn under the lines)
    for (m, lo, hi) in (dashed, solid):
        lower = np.zeros(len(years)) if lo is None else lo
        ax.fill_between(years, lower, hi, color=col, alpha=0.2, lw=0)

    labs = legend_labels.get(key, [None, None])
    sns.lineplot(x=years, y=solid[0], ax=ax, color=col, lw=1.3,
                 label=labs[0], legend=False)
    sns.lineplot(x=years, y=dashed[0], ax=ax, color=col, lw=1.3,
                 linestyle=(0, (7, 4)), label=labs[1], legend=False)

    ax.set_xlim(2015, 2099)
    ax.set_ylim(0, ymax)
    ax.set_xticks(xticks)
    if is_co2:
        ax.set_yticks([0, 0.2, 0.4, 0.6, 0.8, 1.0])
    else:
        ax.set_yticks([0, 0.005, 0.01, 0.015, 0.02])
    ax.yaxis.set_major_formatter(FuncFormatter(lambda v, p: "%g" % v))
    ax.tick_params(direction="in", top=True, right=True, length=7, width=1,
                   labelsize=17.5, colors="#262626", labelcolor="black")
    ax.tick_params(axis="x", pad=8)
    ax.tick_params(axis="y", pad=6)
    if r < 3:
        ax.tick_params(labelbottom=False)
    ax.set_xlabel("")
    for s in ax.spines.values():
        s.set_linewidth(1.0)
        s.set_color("#262626")

    if c == 0:
        gas = "CO$_2$" if is_co2 else "CH$_4$"
        ax.set_ylabel(gas + " flux\nto atmosphere (gC m$^{-2}$ d$^{-1}$)",
                      fontsize=20, labelpad=5, linespacing=1.75)
        leg = ax.legend(loc="upper left", fontsize=18.5, frameon=True, fancybox=False,
                        edgecolor="#262626", framealpha=1, borderaxespad=0.8,
                        handlelength=2.8, handletextpad=0.4, borderpad=0.4,
                        labelspacing=0.3)
        leg.get_frame().set_linewidth(1.0)
    else:
        ax.set_ylabel("")

    if r == 0:
        ax.set_title(col_titles[c], fontsize=20, fontweight="bold", pad=7)

    ax.text(0.983, 0.915, "(%s)" % key, transform=ax.transAxes, ha="right",
            va="center", fontsize=20)
    ax.text(0.122, 0.6 if is_co2 else 0.5, r"$\Delta = %s$" % deltas[idx],
            transform=ax.transAxes, ha="left", va="center", fontsize=20,
            math_fontfamily="cm")

fig.savefig("out.png", dpi=100)
